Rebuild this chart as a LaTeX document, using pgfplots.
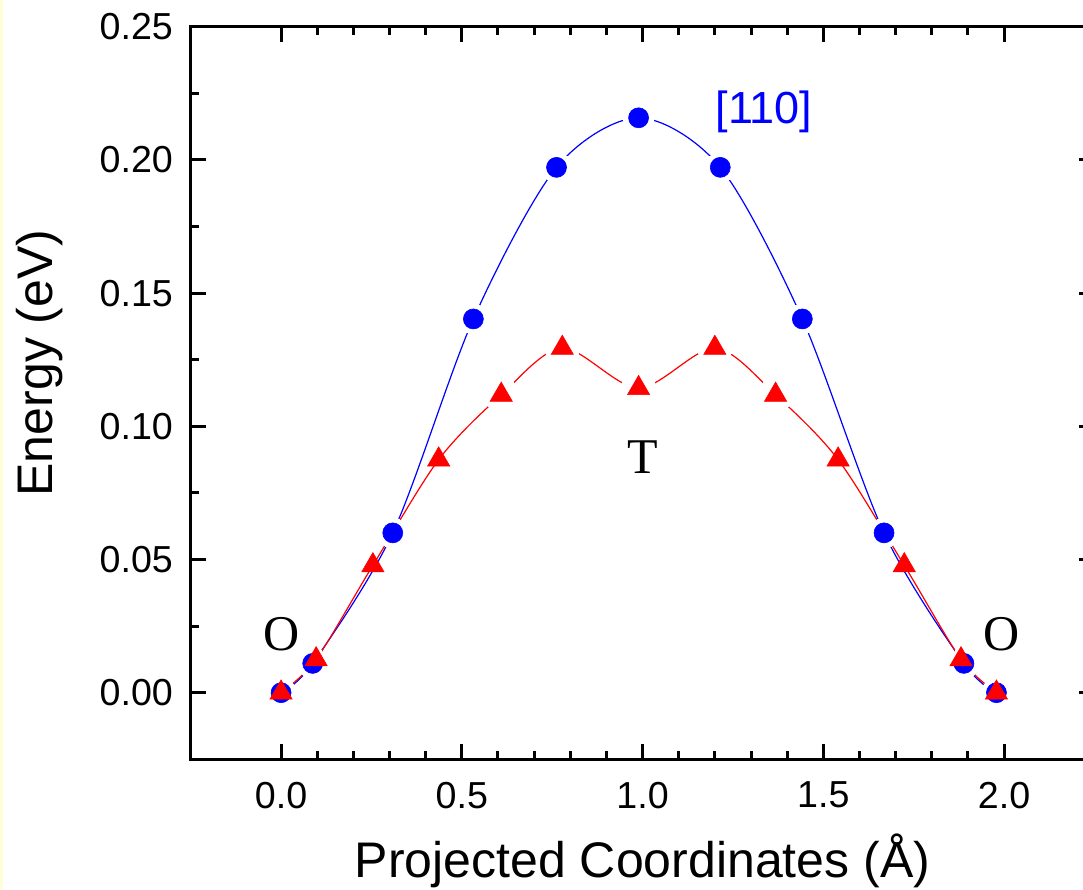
\documentclass[border=0pt]{standalone}
\usepackage{pgfplots}
\pgfplotsset{compat=1.18}
\usepackage{pgfplotstable}
\usepackage{fontspec}
\setmainfont{Liberation Sans}
\newfontfamily\timesfont{Liberation Serif}
\definecolor{paleyellow}{RGB}{255,255,215}

% Energy along the [110] path
\pgfplotstableread{
x y
0 0
0.0875 0.011
0.309 0.060
0.532 0.1403
0.762 0.1972
0.989 0.2158
1.215 0.1972
1.442 0.1403
1.668 0.060
1.889 0.011
1.979 0
}\pathA

% Energy along the O-T-O path
\pgfplotstableread{
x y
0 0
0.097 0.0125
0.254 0.0478
0.436 0.0875
0.609 0.1118
0.778 0.1294
0.989 0.1143
1.200 0.1294
1.368 0.1118
1.541 0.0875
1.724 0.0478
1.881 0.0125
1.979 0
}\pathB

\begin{document}
\begin{tikzpicture}
\begin{axis}[
  name=ax,
  scale only axis,
  width=451.85pt, height=366.3pt,
  xmin=-0.25, xmax=2.25,
  ymin=-0.025, ymax=0.25,
  xtick={0,0.5,1,1.5,2},
  ytick={0,0.05,0.1,0.15,0.2,0.25},
  minor x tick num=4,
  minor y tick num=1,
  tick align=inside,
  tick pos=both,
  major tick length=7.5pt,
  minor tick length=4.2pt,
  every tick/.style={black, line width=1.5pt},
  axis line style={line width=1.6pt},
  /pgf/number format/assume math mode=true,
  xticklabel style={/pgf/number format/.cd, fixed, fixed zerofill, precision=1, /tikz/.cd,
    font=\fontsize{18.8}{22}\selectfont, anchor=north, inner sep=0pt, yshift=-11.2pt},
  yticklabel style={/pgf/number format/.cd, fixed, fixed zerofill, precision=2, /tikz/.cd,
    font=\fontsize{18.8}{22}\selectfont, anchor=east, inner sep=0pt, xshift=-8.7pt},
  xlabel={Projected Coordinates (Å)},
  ylabel={Energy (eV)},
  every axis x label/.style={at={(axis description cs:0.5,-0.1616)}, anchor=base,
    font=\fontsize{25}{30}\selectfont},
  every axis y label/.style={at={(axis description cs:-0.1525,0.541)}, rotate=90, anchor=base,
    font=\fontsize{25}{30}\selectfont},
  clip=false,
]
% [110] path: line, gaps round the markers, markers
\addplot[blue, line width=0.6pt, smooth, no marks] table {\pathA};
\addplot[white, only marks, mark=*, mark size=7.5pt, mark options={draw=white, fill=white, line width=0pt}] table {\pathA};
\addplot[blue, only marks, mark=*, mark size=5pt, mark options={draw=blue, fill=blue, line width=0.3pt}] table {\pathA};
% O-T-O path
\addplot[red, line width=0.6pt, smooth, no marks] table {\pathB};
\addplot[white, only marks, mark=*, mark size=8.5pt, mark options={draw=white, fill=white, line width=0pt},
  restrict x to domain=0.5:1.45] table {\pathB};
\addplot[red, only marks, mark=triangle*, mark size=6.4pt, mark options={draw=red, fill=red, line width=0.3pt}] table {\pathB};

\node[font=\timesfont\fontsize{25}{30}\selectfont] at (axis cs:0,0.0219) {O};
\node[font=\timesfont\fontsize{25}{30}\selectfont] at (axis cs:1.994,0.0219) {O};
\node[font=\timesfont\fontsize{25}{30}\selectfont] at (axis cs:1.0,0.0886) {T};
\node[font=\fontsize{22.5}{27}\selectfont, text=blue] at (axis cs:1.336,0.2179) {[110]};
\end{axis}
\pgfresetboundingbox
\path[use as bounding box] ([xshift=-95.35pt,yshift=-64.85pt]ax.south west) rectangle ([xshift=-5.7pt,yshift=13.35pt]ax.north east);
\fill[paleyellow] ([xshift=-95.35pt,yshift=-64.85pt]ax.south west) rectangle ([xshift=-93.85pt,yshift=13.35pt]ax.north west);
\end{tikzpicture}
\end{document}
